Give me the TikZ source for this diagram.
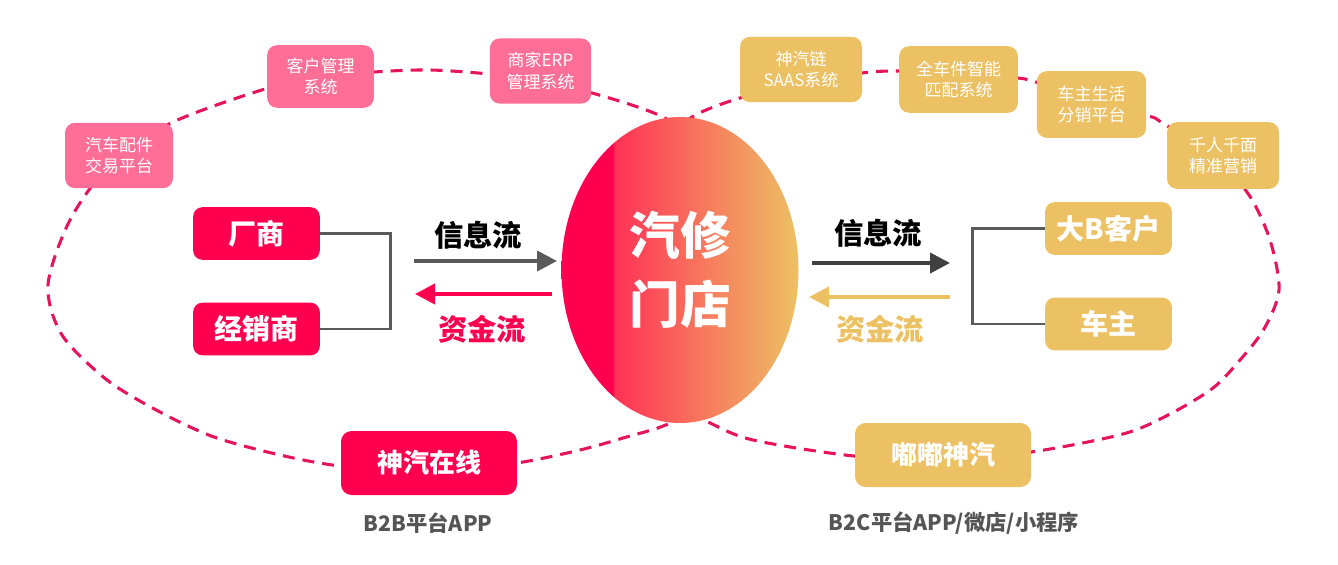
\documentclass[tikz,border=0pt]{standalone}
\usepackage{fontspec}
\setmainfont{Noto Sans CJK SC}
\newfontfamily\heavyfont{Noto Sans CJK SC}[UprightFont=* Black]
\usepackage{xcolor}
\usetikzlibrary{shapes.geometric, arrows.meta}

\definecolor{shopred}{RGB}{255,0,80}
\definecolor{shopmidA}{RGB}{255,50,86}
\definecolor{shopmidB}{RGB}{246,128,94}
\definecolor{lightpink}{RGB}{255,110,150}
\definecolor{goldbox}{RGB}{236,193,99}
\definecolor{dashred}{RGB}{230,20,90}
\definecolor{linegray}{RGB}{90,90,90}
\definecolor{darkgray}{RGB}{64,64,64}
\definecolor{labelgray}{RGB}{85,85,85}

\pgfdeclarehorizontalshading{shopshade}{100bp}{color(0bp)=(shopred); color(35.8bp)=(shopred); color(36.2bp)=(shopmidA); color(57bp)=(shopmidB); color(75bp)=(goldbox); color(100bp)=(goldbox)}

\tikzset{
  sysbox/.style={rounded corners=7.5pt, minimum height=49pt, inner sep=0pt, align=center, text=white, font=\fontsize{12.75}{16}\selectfont},
  partybox/.style={rounded corners=7pt, minimum width=95pt, minimum height=39.5pt, inner sep=0pt, text=white, font=\fontsize{21}{24}\selectfont\heavyfont},
  platbox/.style={rounded corners=8pt, minimum width=132pt, minimum height=48pt, inner sep=0pt, text=white, font=\fontsize{19.5}{22}\selectfont\heavyfont},
  flowtext/.style={inner sep=0pt, font=\fontsize{22}{24}\selectfont\heavyfont},
  flowarrow/.style={line width=3pt, -{Triangle[length=15pt,width=15pt]}},
  bracket/.style={draw=linegray, line width=2.2pt},
  loopline/.style={draw=dashred, line width=2.3pt, dash pattern=on 9pt off 6pt},
  platname/.style={inner sep=0pt, text=labelgray, font=\fontsize{16}{18}\selectfont\bfseries}
}

\begin{document}
\begin{tikzpicture}[x=0.75pt,y=0.75pt,yscale=-1,xscale=1]
    \useasboundingbox (0,0) rectangle (1338,564);

    %Dashed loops
    \draw [loopline] plot [smooth, tension=0.5] coordinates {(705,150) (663,117) (592,93) (530,80) (489,74) (430,70) (374,72) (320,78) (265,89) (171,123) (110,165) (70,220) (48,285) (62,335) (107,380) (160,412) (214,437) (280,455) (340,466) (430,473) (517,463) (580,450) (623,438) (670,423) (705,395)};
    \draw [loopline] plot [smooth, tension=0.5] coordinates {(655,150) (692,117) (740,98) (800,84) (862,73) (896,71) (960,72) (1018,78) (1032,81) (1091,98) (1149,116) (1161,122) (1215,158) (1249,195) (1270,240) (1279,290) (1264,329) (1240,360) (1213,388) (1170,414) (1123,434) (1031,452) (943,459) (854,456) (753,440) (708,422) (655,395)};

    %Shape: Ellipse
    \draw (680,270) node [ellipse, shading=shopshade, minimum width=177.75pt, minimum height=229.5pt, inner sep=0pt, text=white, align=center, font=\fontsize{38}{52}\selectfont\heavyfont] (shop) {汽修\\门店};

    % Text Node
    \draw (119,155.5) node [sysbox, fill=lightpink, minimum width=81pt] (qcpj) {汽车配件\\交易平台};
    % Text Node
    \draw (320.5,76.5) node [sysbox, fill=lightpink, minimum width=80pt, minimum height=47pt] (khgl) {客户管理\\系统};
    % Text Node
    \draw (540.5,71) node [sysbox, fill=lightpink, minimum width=76pt] (sjerp) {商家ERP\\管理系统};
    % Text Node
    \draw (801,69.5) node [sysbox, fill=goldbox, minimum width=91.5pt] (sqlian) {神汽链\\SAAS系统};
    % Text Node
    \draw (958.5,79.5) node [sysbox, fill=goldbox, minimum width=89pt, minimum height=50pt] (qcj) {全车件智能\\匹配系统};
    % Text Node
    \draw (1091.5,104.5) node [sysbox, fill=goldbox, minimum width=82pt, minimum height=50pt] (czsh) {车主生活\\分销平台};
    % Text Node
    \draw (1223,155.5) node [sysbox, fill=goldbox, minimum width=84pt, minimum height=50pt] (qrqm) {千人千面\\精准营销};

    % Text Node
    \draw (256.5,233.5) node [partybox, fill=shopred] (cs) {厂商};
    % Text Node
    \draw (256.5,329) node [partybox, fill=shopred] (jxs) {经销商};
    % Text Node
    \draw (1108.5,228.5) node [partybox, fill=goldbox] (dab) {大B客户};
    % Text Node
    \draw (1108.5,324) node [partybox, fill=goldbox] (cz) {车主};

    % Text Node
    \draw (429,463) node [platbox, fill=shopred] (sqzx) {神汽在线};
    % Text Node
    \draw (943,455) node [platbox, fill=goldbox] (ddsq) {嘟嘟神汽};
    % Text Node
    \draw (428,523) node [platname] (btob) {B2B平台APP};
    % Text Node
    \draw (954,523) node [platname] (btoc) {B2C平台APP/微店/小程序};

    %Straight Lines
    \draw [bracket] (cs.east) -- ++(70,0) |- (jxs.east);
    \draw [bracket] (dab.west) -- ++(-72,0) |- (cz.west);

    %Flow arrows
    \coordinate (linA) at (414,261);
    \coordinate (linB) at (557,261);
    \coordinate (lzjA) at (552,294);
    \coordinate (lzjB) at (415,294);
    \coordinate (rinA) at (812,263);
    \coordinate (rinB) at (950,263);
    \coordinate (rzjA) at (950,297);
    \coordinate (rzjB) at (809,297);
    \draw [flowarrow, draw=linegray] (linA) -- (linB);
    \draw [flowarrow, draw=shopred] (lzjA) -- (lzjB);
    \draw [flowarrow, draw=darkgray] (rinA) -- (rinB);
    \draw [flowarrow, draw=goldbox] (rzjA) -- (rzjB);

    % Text Node
    \draw (478,235) node [flowtext, text=black] (linfo) {信息流};
    % Text Node
    \draw (482,329) node [flowtext, text=shopred] (lcash) {资金流};
    % Text Node
    \draw (878,233) node [flowtext, text=black] (rinfo) {信息流};
    % Text Node
    \draw (880,329) node [flowtext, text=goldbox] (rcash) {资金流};

\end{tikzpicture}
\end{document}
